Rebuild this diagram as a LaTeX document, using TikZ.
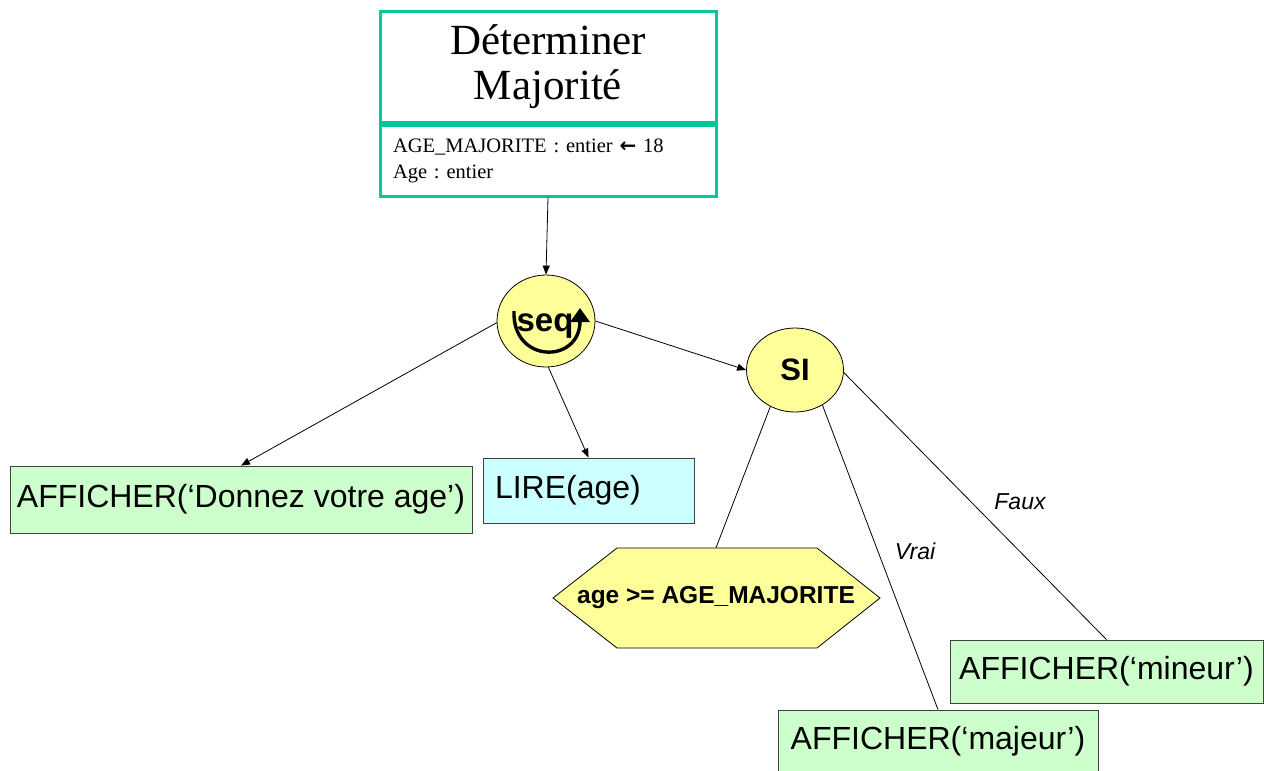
\documentclass[tikz,border=0pt]{standalone}
\usepackage{fontspec}
\setmainfont{Liberation Sans}
\newfontfamily\tnr{Liberation Serif}
\newfontfamily\dvs{DejaVu Sans}
\usetikzlibrary{shapes.geometric,arrows.meta}
\definecolor{tealb}{HTML}{00C896}
\definecolor{greenf}{HTML}{CCFFCC}
\definecolor{cyanf}{HTML}{CCFFFF}
\definecolor{yellowf}{HTML}{FFFF99}
\definecolor{boxline}{HTML}{404040}
\frenchspacing
\begin{document}
\begin{tikzpicture}[x=1pt,y=-1pt,
  headbox/.style={draw=tealb,line width=3pt,fill=white,rectangle,minimum width=336pt,inner sep=0pt},
  actbox/.style={draw=boxline,line width=0.8pt,fill=greenf,rectangle,inner sep=0pt,font=\fontsize{32}{38}\selectfont},
  readbox/.style={draw=boxline,line width=0.8pt,fill=cyanf,rectangle,inner sep=0pt,font=\fontsize{32}{38}\selectfont},
  ctrl/.style={draw=black,line width=0.8pt,fill=yellowf,ellipse,inner sep=0pt},
  conn/.style={-{Triangle[length=9pt,width=7pt]},line width=0.8pt},
  plain/.style={line width=0.8pt},
  lbl/.style={font=\itshape\fontsize{23}{27}\selectfont,inner sep=0pt}
]
\useasboundingbox (0,0) rectangle (1264,771);

% header
\node[headbox,minimum height=111pt,align=center,font=\tnr\fontsize{43}{45}\selectfont] (title) at (548,66.5) {Déterminer\\Majorité};
\node[headbox,minimum height=71pt,anchor=north,text width=310pt,align=left,inner xsep=13pt,font=\tnr\fontsize{20.5}{26}\selectfont] (vars) at (title.south) {AGE\_MAJORITE : entier {\dvs\bfseries\fontsize{20}{26}\selectfont ←} 18\\Age : entier};

% seq node
\node[ctrl,minimum width=98pt,minimum height=92pt] (seq) at (546,321) {};
\draw[line width=3.4pt,-{Triangle[length=14pt,width=19pt]}] (514,311) .. controls (512,364) and (580,364) .. (580,308);
\node[font=\bfseries\fontsize{33}{38}\selectfont,inner sep=0pt] (seqtxt) at (545,326) {seq};

% SI node
\node[ctrl,minimum width=97pt,minimum height=84pt,font=\bfseries\fontsize{31}{36}\selectfont] (si) at (795,370) {SI};

% leaves
\node[actbox,minimum width=462pt,minimum height=67pt] (aff1) at (241,499.5) {AFFICHER(‘Donnez votre age’)};
\node[readbox,minimum height=65pt,text width=187pt,inner xsep=12pt,align=left] (lire) at (588.5,490.5) {LIRE(age)};

\fill[yellowf,draw=black,line width=0.8pt] (553,598) -- (617,548) -- (817,548) -- (880,598) -- (817,648) -- (617,648) -- cycle;
\node[minimum width=327pt,minimum height=100pt,inner sep=0pt,font=\bfseries\fontsize{24.5}{28}\selectfont] (hex) at (716,598) {age >= AGE\_MAJORITE};

\node[actbox,minimum width=313pt,minimum height=63pt] (mineur) at (1106.5,671.5) {AFFICHER(‘mineur’)};
\node[actbox,minimum width=320pt,minimum height=63pt] (majeur) at (938,741.5) {AFFICHER(‘majeur’)};

% connectors
\draw[conn] (vars.south) -- (seq.north);
\draw[conn] (seq.182) -- (aff1.north);
\draw[conn] (seq.-87) -- (lire.north);
\draw[conn] (seq.east) -- (si.west);
\draw[plain] (si.236) -- (hex.north);
\draw[plain] (si.-52) -- (majeur.north);
\draw[plain] (si.-3) -- (mineur.north);

\node[lbl] (vrai) at (915,551) {Vrai};
\node[lbl] (faux) at (1020,502) {Faux};
\end{tikzpicture}
\end{document}
